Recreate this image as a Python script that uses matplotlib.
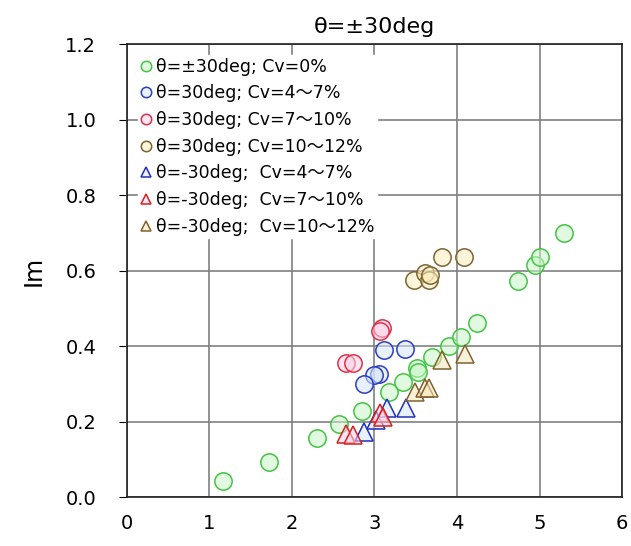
import numpy as np
import matplotlib
matplotlib.use('Agg')
import matplotlib.pyplot as plt

plt.rcParams['font.family'] = ['DejaVu Sans', 'Noto Sans CJK JP']

# Datos
x_cv0 = [1.16, 1.72, 2.30, 2.57, 2.85, 3.17, 3.35, 3.51, 3.53, 3.70, 3.90, 4.05, 4.24, 4.74, 4.94, 5.00, 5.29]
y_cv0 = [0.044, 0.094, 0.158, 0.195, 0.229, 0.279, 0.306, 0.343, 0.332, 0.372, 0.401, 0.425, 0.462, 0.574, 0.616, 0.637, 0.701]

x_p30_a = [3.12, 3.37, 3.05, 3.00, 2.87]
y_p30_a = [0.391, 0.393, 0.327, 0.325, 0.301]
x_p30_b = [3.09, 3.07, 2.66, 2.74]
y_p30_b = [0.449, 0.441, 0.356, 0.356]
x_p30_c = [3.82, 4.09, 3.48, 3.61, 3.66, 3.67]
y_p30_c = [0.637, 0.637, 0.576, 0.595, 0.576, 0.589]

x_m30_a = [2.87, 3.02, 3.15, 3.38]
y_m30_a = [0.174, 0.205, 0.237, 0.237]
x_m30_b = [2.66, 2.74, 3.07, 3.10]
y_m30_b = [0.168, 0.166, 0.224, 0.213]
x_m30_c = [3.49, 3.61, 3.66, 3.82, 4.10]
y_m30_c = [0.280, 0.290, 0.290, 0.364, 0.380]

series = [
    (x_cv0, y_cv0, 'o', '#44c444', (0.78, 0.96, 0.78, 0.55), 'θ=±30deg; Cv=0%'),
    (x_p30_a, y_p30_a, 'o', '#2a3fc0', (0.84, 0.90, 0.99, 0.55), 'θ=30deg; Cv=4～7%'),
    (x_p30_b, y_p30_b, 'o', '#e0304a', (0.99, 0.82, 0.90, 0.55), 'θ=30deg; Cv=7～10%'),
    (x_p30_c, y_p30_c, 'o', '#7d6430', (0.99, 0.93, 0.74, 0.55), 'θ=30deg; Cv=10～12%'),
    (x_m30_a, y_m30_a, '^', '#2030b8', (0.84, 0.90, 0.99, 0.55), 'θ=-30deg;  Cv=4～7%'),
    (x_m30_b, y_m30_b, '^', '#d82020', (0.99, 0.82, 0.90, 0.55), 'θ=-30deg;  Cv=7～10%'),
    (x_m30_c, y_m30_c, '^', '#806030', (0.97, 0.91, 0.72, 0.55), 'θ=-30deg;  Cv=10～12%'),
]

fig = plt.figure(figsize=(6.31, 5.46), dpi=100)
ax = fig.add_axes([0.201, 0.089, 0.785, 0.830])

for xs, ys, m, ec, fc, lab in series:
    ax.plot(xs, ys, m, ls='none', ms=12.5, mec=ec, mfc=fc, mew=1.1, label=lab)

ax.set_xlim(0, 6)
ax.set_ylim(0, 1.2)
ax.set_xticks(np.arange(0, 7, 1))
ax.set_yticks(np.arange(0, 1.21, 0.2))
ax.set_yticklabels(['0.0', '0.2', '0.4', '0.6', '0.8', '1.0', '1.2'])
ax.grid(True, color='#808080', lw=1.2)
ax.set_axisbelow(True)
ax.tick_params(axis='x', length=0, labelsize=14, pad=12)
ax.tick_params(axis='y', length=6, labelsize=14, pad=16)
for s in ax.spines.values():
    s.set_linewidth(1.2)
    s.set_color('#202020')

ax.set_ylabel('Im', fontsize=17, labelpad=14)
ax.set_title('θ=±30deg', fontsize=16, pad=8)

leg = ax.legend(loc='upper left', bbox_to_anchor=(0.005, 0.995), fontsize=12.5,
                markerscale=0.6, handlelength=0.6, handletextpad=0.3,
                labelspacing=0.5, borderpad=0.15, frameon=True, fancybox=False)
leg.get_frame().set_facecolor('white')
leg.get_frame().set_edgecolor('white')
leg.get_frame().set_alpha(1)

fig.savefig('out.png', dpi=100)
